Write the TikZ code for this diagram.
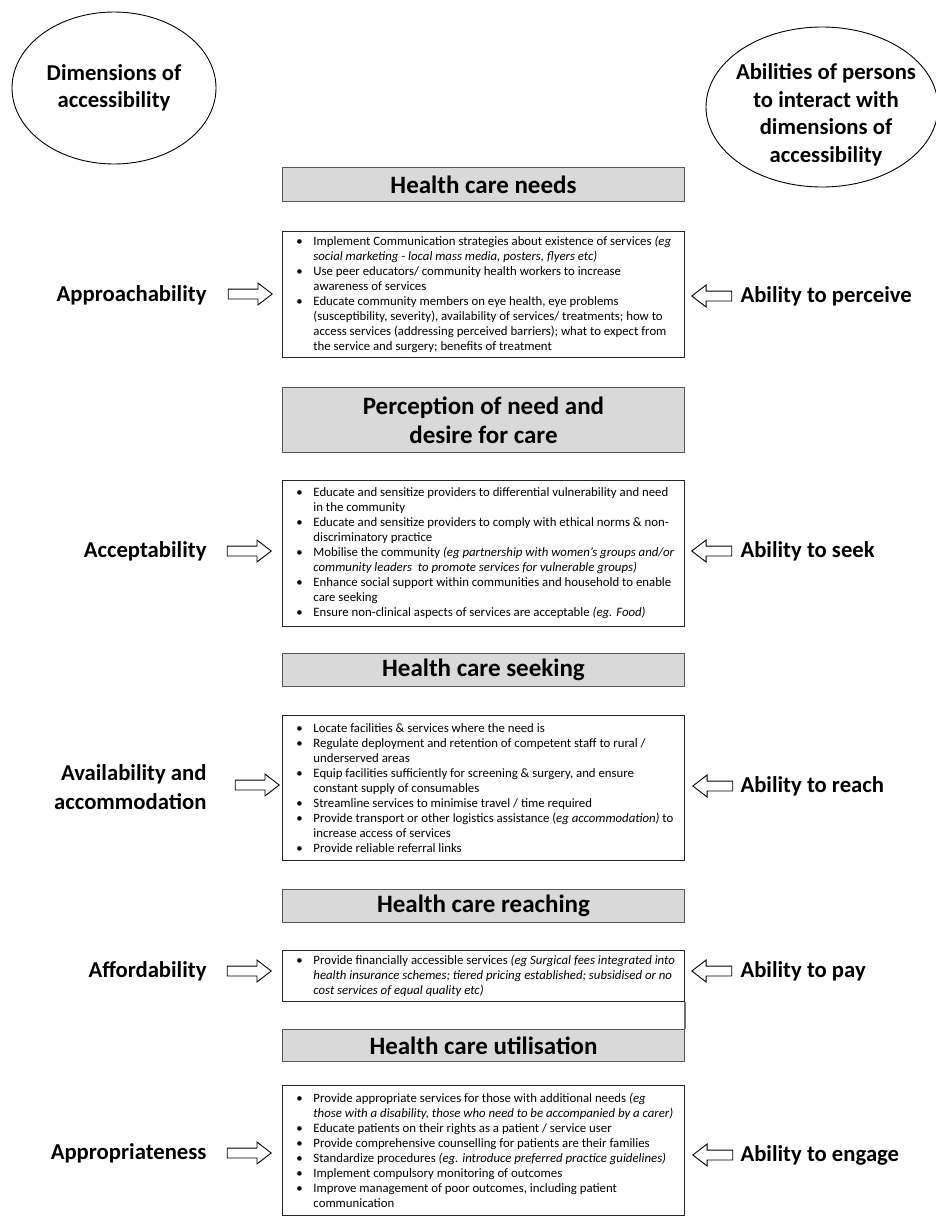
\documentclass[tikz,border=0pt]{standalone}
\usepackage{fontspec}
\setmainfont{Carlito}
\usepackage{xcolor}
\usetikzlibrary{shapes.geometric,shapes.arrows,positioning}

\definecolor{headgrey}{HTML}{D9D9D9}
\definecolor{edgegrey}{HTML}{595959}
\newcommand{\bitem}[1]{\par\noindent\hangindent=17pt\hangafter=1\hbox to 17pt{\textbullet\hfil}#1}
\newcommand{\bodyfont}{\fontsize{12.8}{15}\selectfont}

\begin{document}
\begin{tikzpicture}[x=1pt,y=-1pt,
		headbox/.style={draw=edgegrey, fill=headgrey, line width=1pt, anchor=north west, minimum width=402pt, align=center, font=\fontsize{25}{29}\selectfont\bfseries},
		listbox/.style={draw=black!85, fill=white, line width=0.9pt, anchor=north west, minimum width=402pt, inner sep=0pt, font=\bodyfont},
		dimlabel/.style={anchor=east, align=right, font=\fontsize{22.7}{29}\selectfont\bfseries},
		ablabel/.style={anchor=west, align=left, font=\fontsize{22.7}{29}\selectfont\bfseries},
		bubble/.style={ellipse, draw, line width=0.9pt},
		bubbletext/.style={align=center, font=\fontsize{22.7}{27.5}\selectfont\bfseries},
		rarrow/.style={single arrow, draw, line width=0.9pt, inner sep=0pt, minimum height=44pt, single arrow head extend=6pt, single arrow tip angle=75},
		larrow/.style={rarrow, minimum height=40pt, shape border rotate=180}]
	\useasboundingbox (0,0) rectangle (935,1216);

	\node[bubble, minimum width=204pt, minimum height=152pt] (dims) at (114,88) {};
	\node[bubbletext] (dimstext) at (dims.center) {Dimensions of\\accessibility};
	\node[bubble, minimum width=232pt, minimum height=160pt] (abils) at (822,107) {};
	\node[bubbletext] (abilstext) at (826,115) {Abilities of persons\\to interact with\\dimensions of\\accessibility};

	\node[headbox, minimum height=34pt] (needs) at (282,167) {Health care needs};
	\node[headbox, minimum height=65pt] (percep) at (282,387) {Perception of need and\\desire for care};
	\node[headbox, minimum height=33pt] (seeking) at (282,653) {Health care seeking};
	\node[headbox, minimum height=33pt] (reaching) at (282,889) {Health care reaching};
	\node[headbox, minimum height=32pt] (utilis) at (282,1029) {Health care utilisation};

	\node[listbox, minimum height=126pt] (box1) at (282,231) {\hspace*{14pt}\parbox{380pt}{\raggedright
		\bitem{Implement Communication strategies about existence of services \textit{(eg\newline social marketing - local mass media, posters, flyers etc)}}
		\bitem{Use peer educators/ community health workers to increase\newline awareness of services}
		\bitem{Educate community members on eye health, eye problems\newline (susceptibility, severity), availability of services/ treatments; how to\newline access services (addressing perceived barriers); what to expect from\newline the service and surgery; benefits of treatment}}\hspace*{8pt}};
	\node[listbox, minimum height=146pt] (box2) at (282,480) {\hspace*{14pt}\parbox{380pt}{\raggedright
		\bitem{Educate and sensitize providers to differential vulnerability and need\newline in the community}
		\bitem{Educate and sensitize providers to comply with ethical norms \& non-\newline discriminatory practice}
		\bitem{Mobilise the community \textit{(eg partnership with women's groups and/or\newline community leaders\ \ to promote services for vulnerable groups)}}
		\bitem{Enhance social support within communities and household to enable\newline care seeking}
		\bitem{Ensure non-clinical aspects of services are acceptable \textit{(eg. Food)}}}\hspace*{8pt}};
	\node[listbox, minimum height=145pt] (box3) at (282,715) {\hspace*{14pt}\parbox{380pt}{\raggedright
		\bitem{Locate facilities \& services where the need is}
		\bitem{Regulate deployment and retention of competent staff to rural /\newline underserved areas}
		\bitem{Equip facilities sufficiently for screening \& surgery, and ensure\newline constant supply of consumables}
		\bitem{Streamline services to minimise travel / time required}
		\bitem{Provide transport or other logistics assistance (\textit{eg accommodation)} to\newline increase access of services}
		\bitem{Provide reliable referral links}}\hspace*{8pt}};
	\node[listbox, minimum height=51pt] (box4) at (282,950) {\hspace*{14pt}\parbox{380pt}{\raggedright
		\bitem{Provide financially accessible services \textit{(eg Surgical fees integrated into\newline health insurance schemes; tiered pricing established; subsidised or no\newline cost services of equal quality etc)}}}\hspace*{8pt}};
	\node[listbox, minimum height=130pt] (box5) at (282,1085) {\hspace*{14pt}\parbox{380pt}{\raggedright
		\bitem{Provide appropriate services for those with additional needs \textit{(eg\newline those with a disability, those who need to be accompanied by a carer)}}
		\bitem{Educate patients on their rights as a patient / service user}
		\bitem{Provide comprehensive counselling for patients are their families}
		\bitem{Standardize procedures \textit{(eg. introduce preferred practice guidelines)}}
		\bitem{Implement compulsory monitoring of outcomes}
		\bitem{Improve management of poor outcomes, including patient\newline communication}}\hspace*{8pt}};
	\draw[draw=black!85, line width=1.2pt] (box4.south east) -- (utilis.north east);

	\node[dimlabel] (approach) at (210,295) {Approachability};
	\node[dimlabel] (accept) at (210,551) {Acceptability};
	\node[dimlabel] (avail) at (210,787) {Availability and\\accommodation};
	\node[dimlabel] (afford) at (210,971) {Affordability};
	\node[dimlabel] (approp) at (210,1153) {Appropriateness};

	\node[rarrow] (arr1) at (247,294) {\rule{0pt}{9pt}};
	\node[rarrow] (arr2) at (246,551) {\rule{0pt}{9pt}};
	\node[rarrow] (arr3) at (254,785) {\rule{0pt}{9pt}};
	\node[rarrow] (arr4) at (246,971) {\rule{0pt}{9pt}};
	\node[rarrow] (arr5) at (246,1153) {\rule{0pt}{9pt}};

	\node[ablabel] (perceive) at (737,296) {Ability to perceive};
	\node[ablabel] (seek) at (737,551) {Ability to seek};
	\node[ablabel] (reach) at (737,786) {Ability to reach};
	\node[ablabel] (pay) at (737,971) {Ability to pay};
	\node[ablabel] (engage) at (737,1155) {Ability to engage};

	\node[larrow] (back1) at (715,296) {\rule{0pt}{9pt}};
	\node[larrow] (back2) at (715,551) {\rule{0pt}{9pt}};
	\node[larrow] (back3) at (716,786) {\rule{0pt}{9pt}};
	\node[larrow] (back4) at (715,971) {\rule{0pt}{9pt}};
	\node[larrow] (back5) at (716,1155) {\rule{0pt}{9pt}};
\end{tikzpicture}
\end{document}
